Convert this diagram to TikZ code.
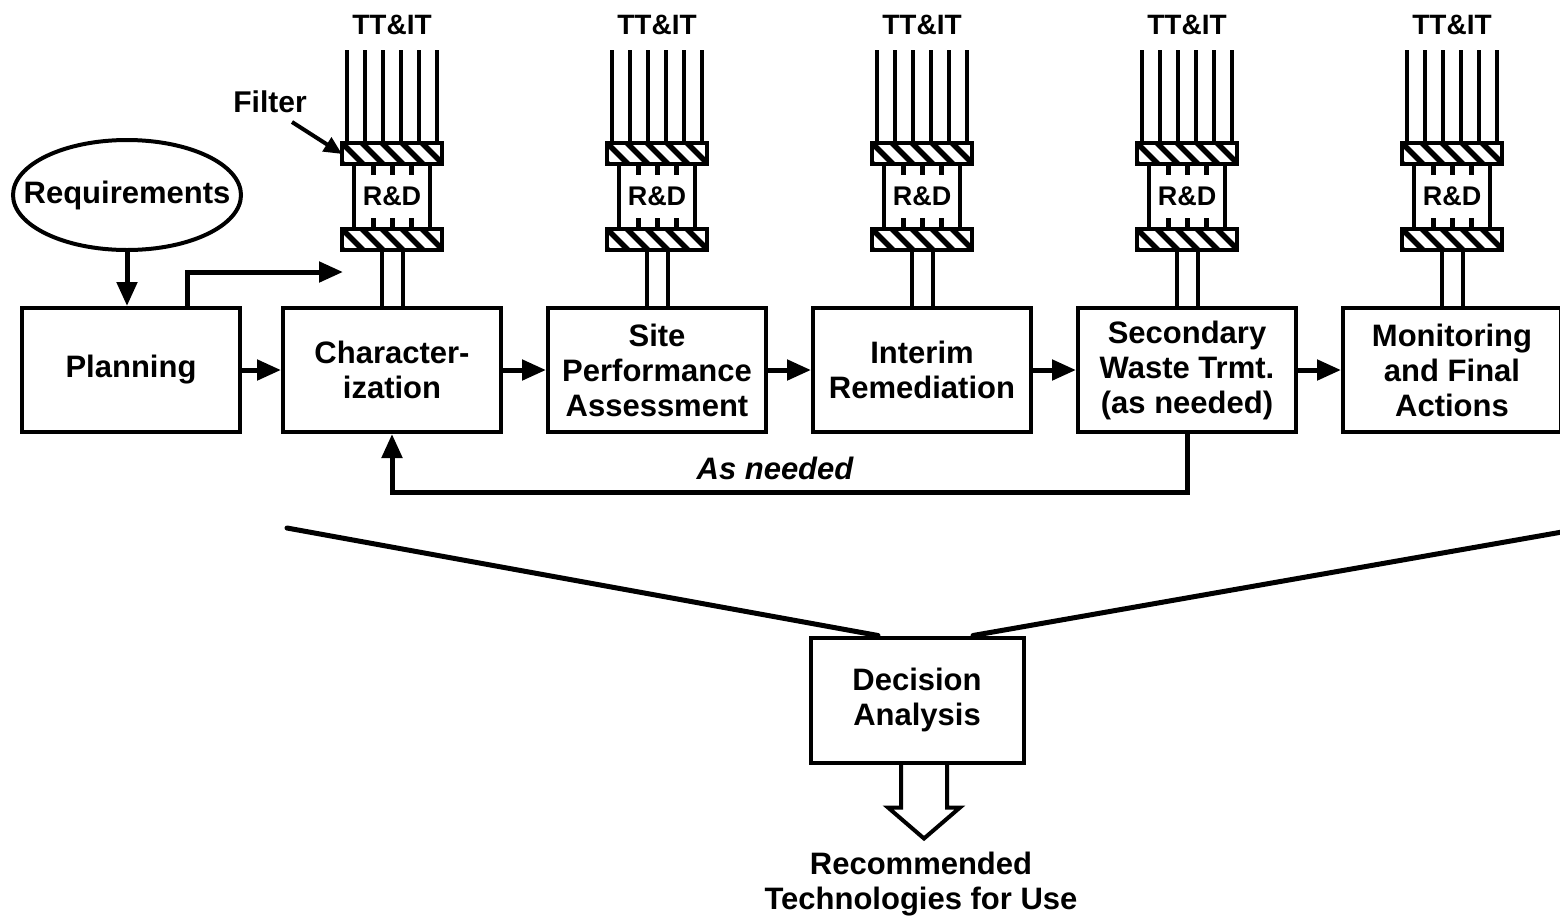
\documentclass[tikz,border=0pt]{standalone}
\usepackage{fontspec}
\setmainfont{Liberation Sans}
\usetikzlibrary{arrows.meta,shapes.geometric,positioning}
\tikzset{x=1pt, y=-1pt, % pixel units, y grows downwards
>={Triangle[length=24pt,width=20pt]}, % bold filled arrow heads
node distance=265pt, % centre to centre distance of the process boxes
every node/.style={font=\bfseries\fontsize{31}{35}\selectfont, align=center, inner sep=0pt},
box/.style={draw, line width=4pt, minimum width=218pt, minimum height=124pt}, % process boxes
goal/.style={draw, ellipse, line width=4pt, minimum width=228pt, minimum height=110pt},
flow/.style={->, line width=5pt},
pointer/.style={-{Triangle[length=18pt,width=16pt]}, line width=4pt},
feed/.style={line width=4pt},
band/.style={line width=4pt},
hatch/.style={line width=5.5pt},
tick/.style={line width=5pt},
vee/.style={line width=5pt, line cap=round},
hollow/.style={line width=4pt, line join=miter},
small/.style={font=\bfseries\fontsize{28}{30}\selectfont},
note/.style={font=\bfseries\itshape\fontsize{31}{35}\selectfont},
}

\begin{document}
\begin{tikzpicture}
\path[use as bounding box, clip] (0,0) rectangle (1560,919);

\node[box] (char) at (392,370) {Character-\\ization};
\node[box, node distance=261pt, left of=char] (plan) {Planning};
\node[box, right of=char] (site) {Site\\Performance\\Assessment};
\node[box, right of=site] (interim) {Interim\\Remediation};
\node[box, right of=interim] (second) {Secondary\\Waste Trmt.\\(as needed)};
\node[box, right of=second] (monit) {Monitoring\\and Final\\Actions};
\node[goal] (req) at (127,195) {\makebox[0pt]{Requirements}};
\node[box, minimum width=213pt, minimum height=125pt] (dec) at (917,700) {Decision\\Analysis};
\node (rec) at (921,884) {Recommended\\Technologies for Use};
\node[note] (asneed) at (775,468) {As needed};
\node[small, font=\bfseries\fontsize{30}{32}\selectfont] (filt) at (270,102) {Filter};

% TT&IT feeds, filters and R&D above every step
\foreach \b in {char,site,interim,second,monit}{
\begin{scope}[shift={(\b.north)}]
\node[small] (tt-\b) at (0,-281) {TT\&IT};
\foreach \i in {-45,-27,...,45} \draw[feed] (\i,-256) -- (\i,-163);
\foreach \t in {-163,-77}{
\begin{scope}
\clip (-50,\t) rectangle ++(100,21);
\foreach \s in {-70,-50,...,50} \draw[hatch] (\s,\t) -- ++(22,22);
\end{scope}
\draw[band] (-50,\t) rectangle ++(100,21);
}
\draw[band] (-38,-142) -- (-38,-77) (38,-142) -- (38,-77);
\foreach \i in {-19,0,19} \draw[tick] (\i,-142) -- ++(0,11) (\i,-77) -- ++(0,-11);
\node[small, font=\bfseries\fontsize{27}{30}\selectfont] (rd-\b) at (0,-110) {R\&D};
\draw[feed] (-10.5,-56) -- (-10.5,0) (10.5,-56) -- (10.5,0);
\coordinate (f-\b) at (-50,-152);
\end{scope}
}

\coordinate (inlet) at (343,272);
\draw[flow] (req) -- (req |- plan.north);
\draw[flow] ([xshift=56pt]plan.north) |- (inlet);
\draw[pointer] ([xshift=22pt,yshift=-20pt]filt.center) -- (f-char);
\draw[flow] (plan) -- (char);
\draw[flow] (char) -- (site);
\draw[flow] (site) -- (interim);
\draw[flow] (interim) -- (second);
\draw[flow] (second) -- (monit);
\draw[flow] (second.south) -- ++(0,58) -| (char.south);

% funnel into the decision
\coordinate (vl) at (287,528);
\coordinate (vr) at (1562,532);
\draw[vee] (vl) -- ([xshift=-39pt]dec.north);
\draw[vee] ([xshift=56pt]dec.north) -- (vr);
\coordinate (outlet) at ([xshift=7pt]dec.south);
\draw[hollow] (outlet) ++(-23,0) -- ++(0,43) -- ++(-13,0) -- ++(36,31) -- ++(36,-31) -- ++(-13,0) -- ++(0,-43);
\end{tikzpicture}
\end{document}
